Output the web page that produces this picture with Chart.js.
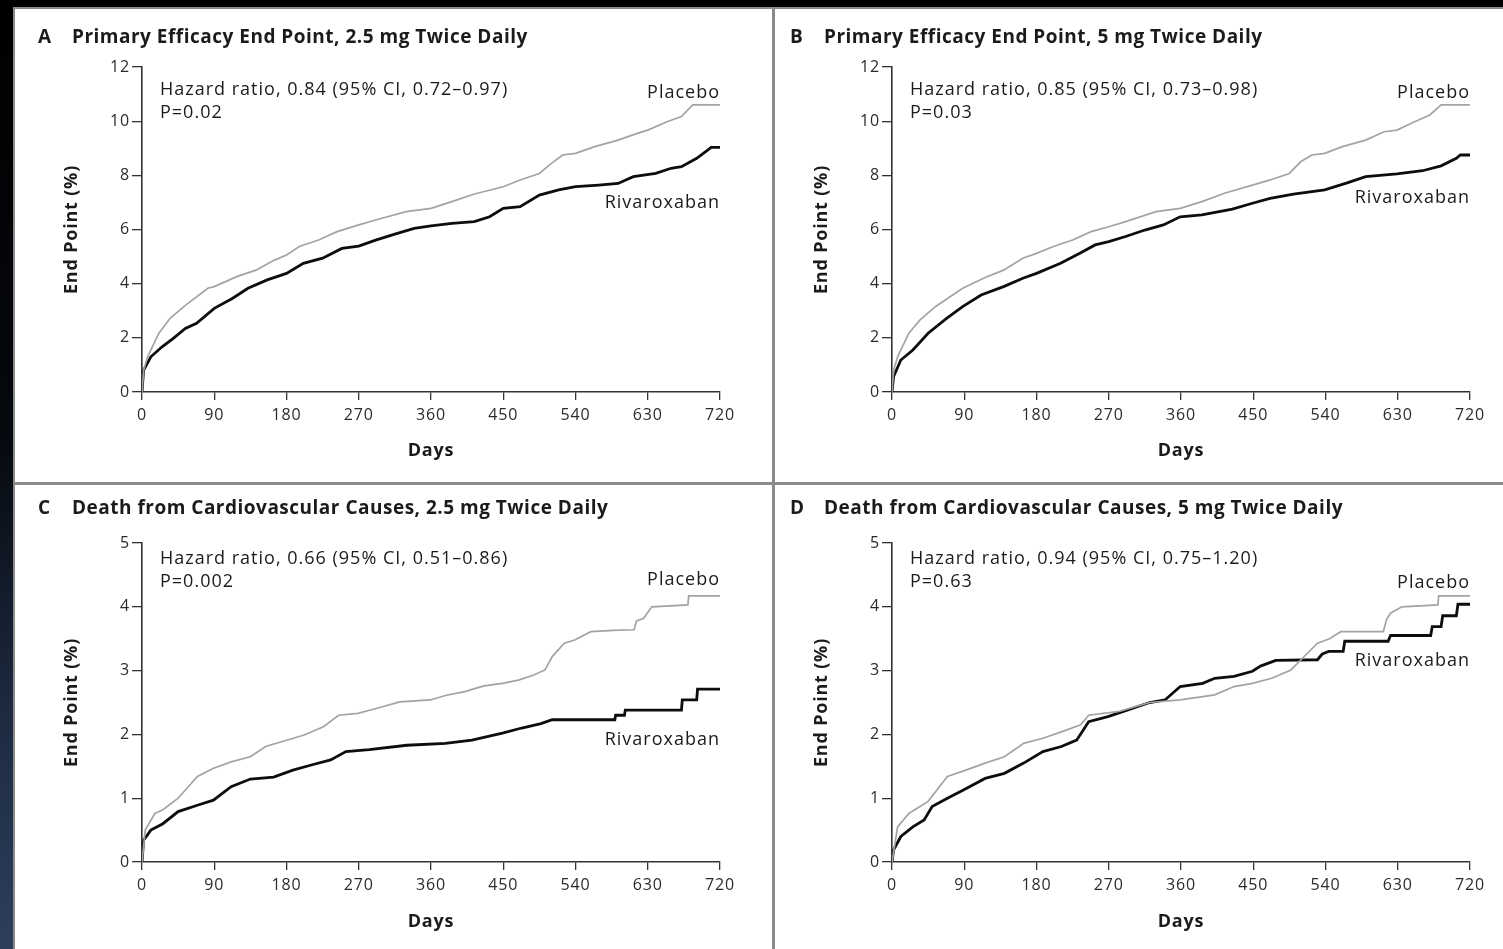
<!DOCTYPE html>
<html>
<head>
<meta charset="utf-8">
<script src="https://cdn.jsdelivr.net/npm/chart.js@4.4.1/dist/chart.umd.min.js"></script>
<style>
  html, body { margin: 0; padding: 0; background: #000; }
  body { width: 1503px; height: 949px; position: relative; overflow: hidden; }
  #strip { position: absolute; left: 0; top: 0; width: 13px; height: 949px;
           background: linear-gradient(to bottom, #000 0%, #05080d 45%, #1d2a40 75%, #2d3f5c 100%); }
  #frame { position: absolute; left: 13px; top: 7px; width: 1490px; height: 942px; background: #8a8a8a; }
  .panel { position: absolute; background: #fff; }
  .panel canvas { display: block; }
</style>
</head>
<body>
<div id="strip"></div>
<div id="frame"></div>
<div class="panel" style="left:15px;top:9px;width:757px;height:473px"><canvas id="chartA" width="757" height="473"></canvas></div>
<div class="panel" style="left:775px;top:9px;width:728px;height:473px"><canvas id="chartB" width="728" height="473"></canvas></div>
<div class="panel" style="left:15px;top:485px;width:757px;height:464px"><canvas id="chartC" width="757" height="464"></canvas></div>
<div class="panel" style="left:775px;top:485px;width:728px;height:464px"><canvas id="chartD" width="728" height="464"></canvas></div>
<script>
// tick labels
const dayTicks = [0, 90, 180, 270, 360, 450, 540, 630, 720];
const efficacyTicks = [0, 2, 4, 6, 8, 10, 12];
const deathTicks = [0, 1, 2, 3, 4, 5];

// A: primary efficacy end point, 2.5 mg
const aPlaceboDays = [0, 2, 7, 21, 35, 54, 82, 90, 118, 142, 165, 180, 196, 220, 243, 270, 291, 329, 360, 386, 414, 450, 471, 495, 510, 524, 540, 564, 593, 617, 630, 654, 672, 686, 720];
const aPlaceboPct  = [0, 0.8, 1.3, 2.17, 2.72, 3.2, 3.83, 3.89, 4.26, 4.5, 4.87, 5.06, 5.37, 5.61, 5.92, 6.17, 6.35, 6.66, 6.78, 7.03, 7.31, 7.58, 7.83, 8.07, 8.44, 8.75, 8.81, 9.06, 9.3, 9.55, 9.67, 9.98, 10.17, 10.6, 10.6];
const aRivaDays = [0, 2, 11, 25, 39, 54, 68, 90, 113, 132, 156, 180, 201, 225, 249, 270, 291, 315, 339, 360, 386, 414, 433, 450, 471, 495, 519, 540, 569, 593, 612, 640, 659, 672, 691, 705, 709, 720];
const aRivaPct  = [0, 0.81, 1.3, 1.67, 1.98, 2.35, 2.54, 3.09, 3.46, 3.83, 4.14, 4.38, 4.75, 4.94, 5.3, 5.39, 5.61, 5.83, 6.04, 6.13, 6.23, 6.29, 6.47, 6.78, 6.84, 7.27, 7.46, 7.58, 7.64, 7.7, 7.95, 8.07, 8.26, 8.32, 8.63, 8.94, 9.03, 9.03];

// B: primary efficacy end point, 5 mg
const bPlaceboDays = [0, 2, 7, 21, 35, 54, 88, 116, 139, 163, 180, 201, 225, 248, 270, 291, 329, 359, 386, 414, 449, 471, 495, 509, 523, 539, 561, 590, 613, 629, 651, 670, 684, 720];
const bPlaceboPct  = [0, 0.8, 1.3, 2.17, 2.66, 3.15, 3.83, 4.23, 4.5, 4.94, 5.12, 5.37, 5.61, 5.92, 6.1, 6.29, 6.66, 6.78, 7.03, 7.34, 7.64, 7.83, 8.07, 8.5, 8.75, 8.81, 9.06, 9.3, 9.61, 9.67, 9.98, 10.23, 10.6, 10.6];
const bRivaDays = [0, 2, 11, 26, 45, 68, 88, 111, 139, 163, 180, 210, 234, 253, 270, 291, 315, 338, 359, 386, 424, 449, 471, 500, 539, 566, 590, 629, 661, 684, 703, 708, 720];
const bRivaPct  = [0, 0.57, 1.18, 1.55, 2.17, 2.72, 3.15, 3.58, 3.89, 4.2, 4.38, 4.75, 5.12, 5.43, 5.55, 5.74, 5.98, 6.17, 6.47, 6.54, 6.75, 6.97, 7.15, 7.31, 7.46, 7.71, 7.95, 8.05, 8.17, 8.35, 8.63, 8.75, 8.75];

// C: death from cardiovascular causes, 2.5 mg
const cPlaceboDays = [0, 4, 16, 26, 45, 69, 89, 111, 135, 154, 178, 202, 226, 245, 269, 293, 321, 359, 378, 402, 426, 449, 469, 488, 502, 511, 526, 539, 559, 587, 613, 616, 625, 635, 680, 681, 720];
const cPlaceboPct  = [0, 0.5, 0.76, 0.82, 1.0, 1.34, 1.47, 1.57, 1.65, 1.81, 1.9, 1.99, 2.12, 2.3, 2.33, 2.41, 2.51, 2.54, 2.61, 2.67, 2.76, 2.8, 2.85, 2.93, 3.01, 3.22, 3.43, 3.48, 3.61, 3.63, 3.64, 3.78, 3.82, 4.0, 4.03, 4.17, 4.17];
const cRivaDays = [0, 2, 11, 26, 45, 69, 89, 111, 135, 164, 188, 211, 235, 254, 283, 330, 378, 411, 449, 473, 497, 511, 589, 590, 601, 602, 672, 673, 691, 692, 720];
const cRivaPct  = [0, 0.34, 0.5, 0.6, 0.79, 0.89, 0.97, 1.18, 1.3, 1.33, 1.44, 1.52, 1.6, 1.73, 1.76, 1.83, 1.86, 1.91, 2.02, 2.1, 2.17, 2.23, 2.23, 2.3, 2.3, 2.38, 2.38, 2.54, 2.54, 2.71, 2.71];

// D: death from cardiovascular causes, 5 mg
const dPlaceboDays = [0, 7, 21, 45, 69, 92, 116, 140, 164, 188, 211, 235, 245, 283, 321, 359, 402, 426, 449, 473, 497, 511, 530, 545, 559, 612, 616, 621, 635, 680, 681, 720];
const dPlaceboPct  = [0, 0.55, 0.76, 0.95, 1.34, 1.44, 1.55, 1.65, 1.86, 1.94, 2.04, 2.15, 2.3, 2.36, 2.5, 2.54, 2.62, 2.75, 2.8, 2.88, 3.01, 3.19, 3.43, 3.5, 3.61, 3.61, 3.8, 3.9, 4.0, 4.03, 4.17, 4.17];
const dRivaDays = [0, 2, 11, 26, 40, 50, 69, 89, 116, 140, 164, 188, 211, 230, 245, 269, 293, 321, 340, 359, 387, 402, 426, 449, 459, 478, 530, 536, 544, 562, 564, 618, 621, 671, 673, 684, 686, 703, 705, 720];
const dRivaPct  = [0, 0.19, 0.4, 0.55, 0.66, 0.87, 1.0, 1.13, 1.31, 1.39, 1.55, 1.73, 1.81, 1.91, 2.2, 2.28, 2.38, 2.5, 2.54, 2.75, 2.8, 2.88, 2.91, 2.99, 3.07, 3.16, 3.17, 3.26, 3.3, 3.3, 3.46, 3.46, 3.55, 3.55, 3.69, 3.69, 3.86, 3.86, 4.04, 4.04];

const panelLetters = ['A', 'B', 'C', 'D'];
const panelTitles = [
    'Primary Efficacy End Point, 2.5 mg Twice Daily',
    'Primary Efficacy End Point, 5 mg Twice Daily',
    'Death from Cardiovascular Causes, 2.5 mg Twice Daily',
    'Death from Cardiovascular Causes, 5 mg Twice Daily'
];
const hazardTexts = [
    'Hazard ratio, 0.84 (95% CI, 0.72\u20130.97)',
    'Hazard ratio, 0.85 (95% CI, 0.73\u20130.98)',
    'Hazard ratio, 0.66 (95% CI, 0.51\u20130.86)',
    'Hazard ratio, 0.94 (95% CI, 0.75\u20131.20)'
];
const pTexts = ['P=0.02', 'P=0.03', 'P=0.002', 'P=0.63'];

const FONT = '"Open Sans", "DejaVu Sans", sans-serif';
const INK = '#1b1b1b';

function toPoints(days, pct) {
    return days.map((d, i) => ({ x: d, y: pct[i] }));
}

// panel headings, hazard ratio note and curve labels
const panelText = {
    id: 'panelText',
    beforeDraw(chart) {
        chart.ctx.letterSpacing = '0.8px';
    },
    afterDraw(chart, args, opts) {
        const { ctx, chartArea } = chart;
        ctx.save();
        ctx.fillStyle = INK;
        ctx.textBaseline = 'middle';
        ctx.letterSpacing = '0.5px';
        ctx.font = 'bold 19px ' + FONT;
        ctx.fillText(opts.letter, opts.headX, opts.headY);
        ctx.fillText(opts.title, opts.headX + 34, opts.headY);

        ctx.letterSpacing = '1px';
        ctx.font = '18px ' + FONT;
        ctx.fillText(opts.hr, chartArea.left + 18, chartArea.top + opts.noteY);
        ctx.fillText(opts.p, chartArea.left + 18, chartArea.top + opts.noteY + 23);
        ctx.textAlign = 'right';
        ctx.fillText('Placebo', chartArea.right, chartArea.top + opts.placeboY);
        ctx.fillText('Rivaroxaban', chartArea.right, chartArea.top + opts.rivaY);
        ctx.restore();
    }
};

function makePanel(id, idx, cfg) {
    return new Chart(document.getElementById(id), {
        type: 'line',
        data: {
            datasets: [
                {
                    label: 'Placebo',
                    data: toPoints(cfg.placeboDays, cfg.placeboPct),
                    borderColor: '#a3a3a3',
                    borderWidth: 1.7,
                    pointRadius: 0
                },
                {
                    label: 'Rivaroxaban',
                    data: toPoints(cfg.rivaDays, cfg.rivaPct),
                    borderColor: '#0d0d0d',
                    borderWidth: 2.8,
                    pointRadius: 0
                }
            ]
        },
        options: {
            responsive: false,
            animation: false,
            events: [],
            layout: {
                padding: { left: 0, top: 58, right: cfg.padRight, bottom: 0 }
            },
            plugins: {
                legend: { display: false },
                tooltip: { enabled: false },
                panelText: {
                    letter: panelLetters[idx],
                    title: panelTitles[idx],
                    hr: hazardTexts[idx],
                    p: pTexts[idx],
                    headX: cfg.headX,
                    headY: cfg.headY,
                    noteY: cfg.noteY,
                    placeboY: cfg.placeboY,
                    rivaY: cfg.rivaY
                }
            },
            scales: {
                x: {
                    type: 'linear',
                    min: 0,
                    max: 720,
                    afterBuildTicks: (s) => { s.ticks = dayTicks.map(v => ({ value: v })); },
                    afterFit: (s) => { s.height = cfg.xHeight; },
                    grid: { drawOnChartArea: false, tickLength: 8, color: '#333', lineWidth: 1.3 },
                    border: { color: '#333', width: 1.6 },
                    ticks: { color: '#2b2b2b', font: { family: FONT, size: 16 }, padding: 6, maxRotation: 0 },
                    title: {
                        display: true,
                        text: 'Days',
                        color: INK,
                        font: { family: FONT, size: 18, weight: 'bold' },
                        padding: { top: 0, bottom: cfg.daysPad }
                    }
                },
                y: {
                    min: 0,
                    max: cfg.yMax,
                    afterBuildTicks: (s) => { s.ticks = cfg.yTicks.map(v => ({ value: v })); },
                    afterFit: (s) => { s.width = cfg.yWidth; },
                    grid: { drawOnChartArea: false, tickLength: 10, color: '#333', lineWidth: 1.3 },
                    border: { color: '#333', width: 1.6 },
                    ticks: { color: '#2b2b2b', font: { family: FONT, size: 16 }, padding: 2 },
                    title: {
                        display: true,
                        text: 'End Point (%)',
                        color: INK,
                        font: { family: FONT, size: 18, weight: 'bold' },
                        padding: { top: cfg.yTitlePad, bottom: 0 }
                    }
                }
            }
        },
        plugins: [panelText]
    });
}

makePanel('chartA', 0, {
    placeboDays: aPlaceboDays, placeboPct: aPlaceboPct, rivaDays: aRivaDays, rivaPct: aRivaPct,
    yMax: 12, yTicks: efficacyTicks, yWidth: 127, padRight: 52, xHeight: 90, daysPad: 20, yTitlePad: 46,
    headX: 23, headY: 29, noteY: 23, placeboY: 26, rivaY: 136
});
makePanel('chartB', 1, {
    placeboDays: bPlaceboDays, placeboPct: bPlaceboPct, rivaDays: bRivaDays, rivaPct: bRivaPct,
    yMax: 12, yTicks: efficacyTicks, yWidth: 117, padRight: 33, xHeight: 90, daysPad: 20, yTitlePad: 36,
    headX: 15, headY: 29, noteY: 23, placeboY: 26, rivaY: 131
});
makePanel('chartC', 2, {
    placeboDays: cPlaceboDays, placeboPct: cPlaceboPct, rivaDays: cRivaDays, rivaPct: cRivaPct,
    yMax: 5, yTicks: deathTicks, yWidth: 127, padRight: 52, xHeight: 87, daysPad: 16, yTitlePad: 46,
    headX: 23, headY: 24, noteY: 16, placeboY: 37, rivaY: 197
});
makePanel('chartD', 3, {
    placeboDays: dPlaceboDays, placeboPct: dPlaceboPct, rivaDays: dRivaDays, rivaPct: dRivaPct,
    yMax: 5, yTicks: deathTicks, yWidth: 117, padRight: 33, xHeight: 87, daysPad: 16, yTitlePad: 36,
    headX: 15, headY: 24, noteY: 16, placeboY: 40, rivaY: 118
});
</script>
</body>
</html>
